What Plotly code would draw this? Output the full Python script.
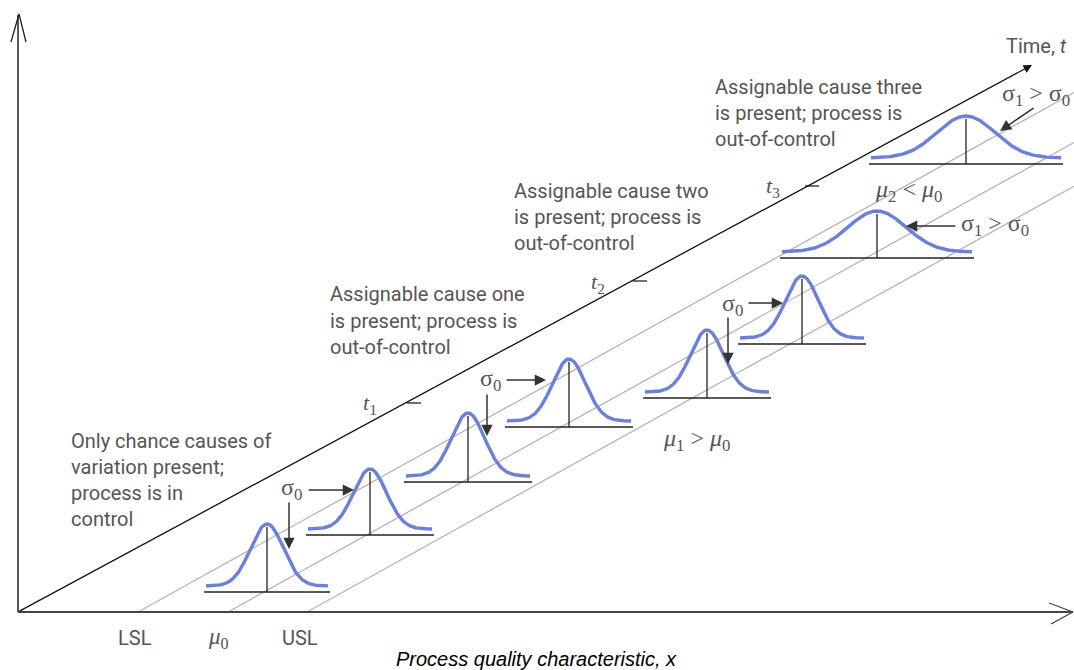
import numpy as np
import plotly.graph_objects as go

# ---------------- data (diagram space, pixels of a 1074x670 canvas) ----------------
W, H = 1074, 670
origin = (18, 612)
time_axis_end = (1032, 65)
x_axis_end = 1073
y_axis_top = 15

spec_labels = ["LSL", "<i>μ</i><sub>0</sub>", "USL"]
spec_x = [138, 228, 307]
guide_slope = 0.555

# eight sampled distributions along the time axis
curve_mean = [267, 370, 468, 569, 707, 802, 877, 966]
curve_base = [592, 535, 482, 427, 398, 344, 258, 164]
curve_sigma = [16.5, 16.5, 16.5, 16.5, 16.5, 16.5, 29, 29]
curve_peak = [62, 60, 63, 62, 62, 62, 41, 42]
curve_halfspan = [61, 62, 62, 62, 62, 62, 95, 95]
tail_lift = 6

# time ticks
tick_labels = ["<i>t</i><sub>1</sub>", "<i>t</i><sub>2</sub>", "<i>t</i><sub>3</sub>"]
tick_x = [407, 633, 805]
tick_y = [403, 281, 186]
tick_label_pos = [(370, 404), (598, 283), (773, 187)]

# descriptive texts
blocks = [
    (69, [441, 467, 493, 519], ["Only chance causes of", "variation present;", "process is in", "control"]),
    (328, [294, 321, 347], ["Assignable cause one", "is present; process is", "out-of-control"]),
    (512, [191, 217, 243], ["Assignable cause two", "is present; process is", "out-of-control"]),
    (713, [87, 113, 139], ["Assignable cause three", "is present; process is", "out-of-control"]),
]

# sigma / mean labels  (text, x, y)
greek_labels = [
    ("σ<sub>0</sub>", 291, 489),
    ("σ<sub>0</sub>", 490, 380),
    ("σ<sub>0</sub>", 732, 305),
    ("σ<sub>1</sub> > σ<sub>0</sub>", 995, 225),
    ("σ<sub>1</sub> > σ<sub>0</sub>", 1036, 95),
    ("<i>μ</i><sub>1</sub> > <i>μ</i><sub>0</sub>", 696, 440),
    ("<i>μ</i><sub>2</sub> &lt; <i>μ</i><sub>0</sub>", 908, 191),
]

# arrows: (tail_x, tail_y, head_x, head_y)
arrows = [
    (307, 490, 354, 490),
    (289, 501, 289, 549),
    (505, 380, 546, 380),
    (487, 393, 487, 436),
    (747, 303, 783, 303),
    (728, 316, 728, 364),
    (957, 226, 906, 226),
    (1035, 107, 1000, 131),
]

# ---------------- figure ----------------
fig = go.Figure()

def line(xs, ys, color, width):
    fig.add_trace(go.Scatter(x=xs, y=ys, mode="lines", hoverinfo="skip",
                             line=dict(color=color, width=width)))

# gray guide lines (LSL, mu0, USL)
for sx in spec_x:
    line([sx, W], [origin[1], origin[1] - guide_slope * (W - sx)], "#bbb3b3", 1.3)

# axes
line([origin[0], origin[0]], [origin[1], y_axis_top], "#222222", 1.5)
line([origin[0] - 7, origin[0] + 1, origin[0] + 8], [42, y_axis_top - 1, 42], "#222222", 1.3)
line([origin[0], x_axis_end], [origin[1], origin[1]], "#444444", 2)
line([1049, x_axis_end, 1051], [603, origin[1], 624], "#444444", 1.3)

# curves
for mu, base, sd, pk, hs in zip(curve_mean, curve_base, curve_sigma, curve_peak, curve_halfspan):
    xs = np.linspace(mu - hs, mu + hs, 200)
    ys = base - tail_lift - pk * np.exp(-0.5 * ((xs - mu) / sd) ** 2)
    line([mu - hs - 2, mu + hs + 2], [base, base], "#222222", 1.6)
    line([mu, mu], [base, base - tail_lift - pk + 3], "#222222", 1.3)
    line(xs, ys, "#6b80d8", 3.4)

# time ticks
for tx, ty in zip(tick_x, tick_y):
    line([tx, tx + 14], [ty, ty], "#222222", 1.3)

annotations = []
# time axis arrow
annotations.append(dict(x=time_axis_end[0], y=time_axis_end[1], ax=origin[0], ay=origin[1],
                        xref="x", yref="y", axref="x", ayref="y", text="", showarrow=True,
                        arrowhead=2, arrowsize=1.3, arrowwidth=1.3, arrowcolor="#111111"))
for tx, ty, hx, hy in arrows:
    annotations.append(dict(x=hx, y=hy, ax=tx, ay=ty, xref="x", yref="y", axref="x", ayref="y",
                            text="", showarrow=True, arrowhead=2, arrowsize=1.5,
                            arrowwidth=1.5, arrowcolor="#333333"))

TXT = "Roboto, 'Liberation Sans Narrow', sans-serif"
for x0, ys, lines in blocks:
    for yy, t in zip(ys, lines):
        annotations.append(dict(x=x0, y=yy, xref="x", yref="y", text=t, showarrow=False,
                                xanchor="left", yanchor="middle",
                                font=dict(family=TXT, size=20, color="#555555")))

for t, x0, y0 in greek_labels:
    annotations.append(dict(x=x0, y=y0, xref="x", yref="y", text=t, showarrow=False,
                            xanchor="center", yanchor="middle",
                            font=dict(family="'Liberation Serif', serif", size=24, color="#555555")))

for t, (x0, y0) in zip(tick_labels, tick_label_pos):
    annotations.append(dict(x=x0, y=y0, xref="x", yref="y", text=t, showarrow=False,
                            xanchor="center", yanchor="middle",
                            font=dict(family="'Liberation Serif', serif", size=22, color="#555555")))

spec_label_x = [135, 218, 300]
for t, x0 in zip(spec_labels, spec_label_x):
    fam = "'Liberation Serif', serif" if "μ" in t else TXT
    sz = 23 if "μ" in t else 20
    annotations.append(dict(x=x0, y=638, xref="x", yref="y", text=t, showarrow=False,
                            xanchor="center", yanchor="middle",
                            font=dict(family=fam, size=sz, color="#555555")))

annotations.append(dict(x=1036, y=46, xref="x", yref="y", text="Time, <i>t</i>", showarrow=False,
                        xanchor="center", yanchor="middle",
                        font=dict(family=TXT, size=20, color="#555555")))
annotations.append(dict(x=536, y=659, xref="x", yref="y",
                        text="<i>Process quality characteristic, x</i>", showarrow=False,
                        xanchor="center", yanchor="middle",
                        font=dict(family="'Liberation Sans', Arial, sans-serif", size=20, color="#000000")))

fig.update_layout(
    width=W, height=H, margin=dict(l=0, r=0, t=0, b=0),
    paper_bgcolor="white", plot_bgcolor="white", showlegend=False,
    xaxis=dict(range=[0, W], visible=False, fixedrange=True),
    yaxis=dict(range=[H, 0], visible=False, fixedrange=True),
    annotations=annotations,
)

fig.write_html("out.html")
